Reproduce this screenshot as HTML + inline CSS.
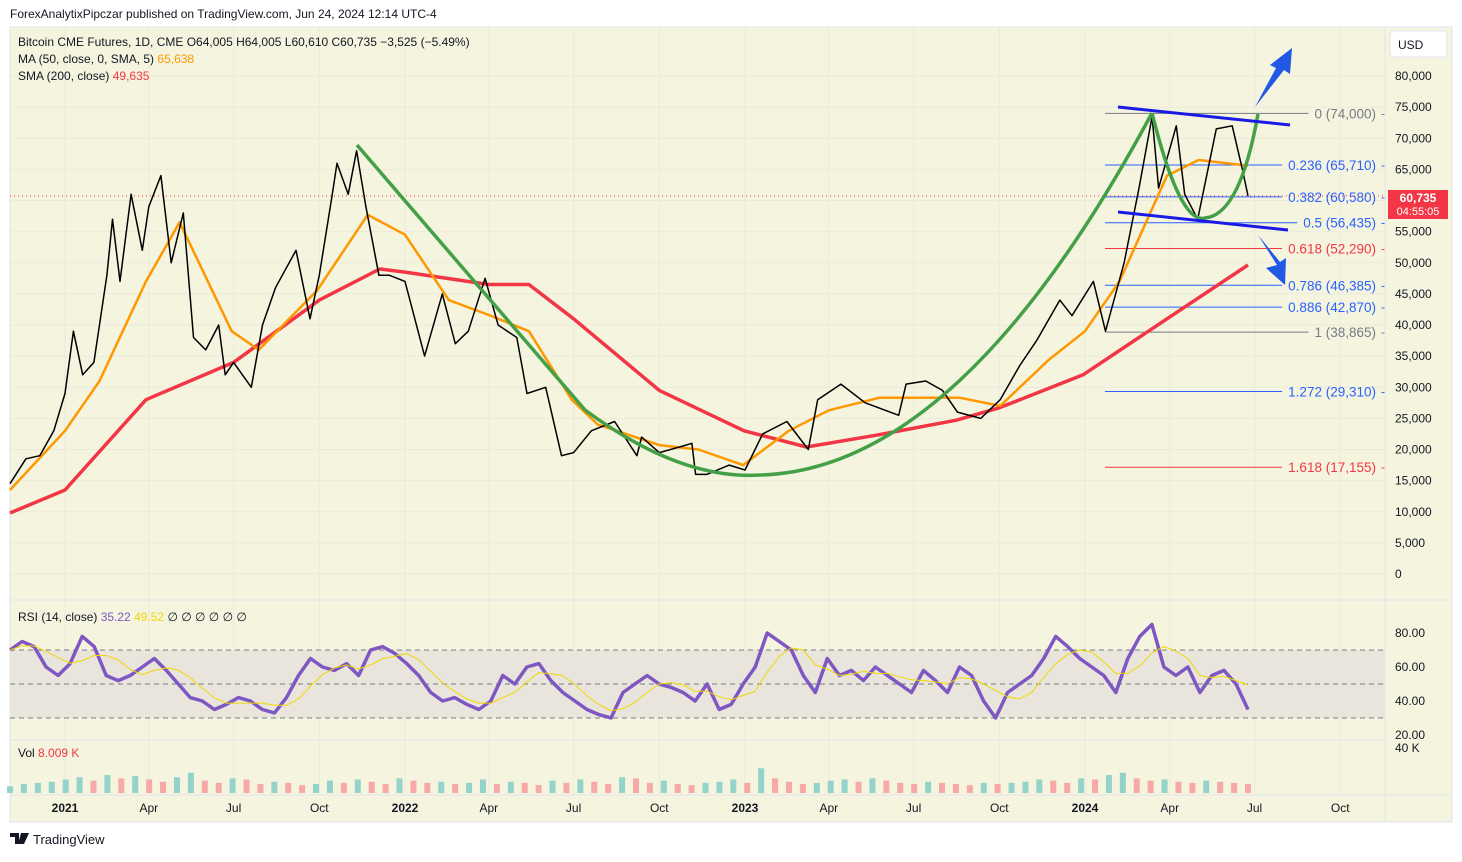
<!DOCTYPE html>
<html><head><meta charset="utf-8"><style>
body{margin:0;background:#fff;font-family:"Liberation Sans",sans-serif;}
svg text{font-family:"Liberation Sans",sans-serif;}
</style></head><body>
<svg id="c" width="1462" height="857" xmlns="http://www.w3.org/2000/svg">
<rect x="0" y="0" width="1462" height="857" fill="#ffffff"/>
<rect x="10" y="27" width="1442" height="795" fill="#f5f4df" stroke="#e0e3eb"/>
<text x="10" y="18" font-size="12" fill="#131722">ForexAnalytixPipczar published on TradingView.com, Jun 24, 2024 12:14 UTC-4</text>
<g id="grid"></g>
<line x1="10" y1="600" x2="1452" y2="600" stroke="#e0e3eb"/>
<line x1="10" y1="740" x2="1385" y2="740" stroke="#e0e3eb"/>
<line x1="10" y1="795" x2="1452" y2="795" stroke="#e0e3eb"/>
<line x1="1385" y1="27" x2="1385" y2="822" stroke="#e0e3eb"/>
<g id="fib"></g>
<g id="price"></g>
<g id="ann"></g>
<g id="rsi"></g>
<g id="vol"></g>
<g id="axes"></g>
<text x="18" y="46" font-size="12" fill="#131722">Bitcoin CME Futures, 1D, CME  O64,005  H64,005  L60,610  C60,735  −3,525 (−5.49%)</text>
<text x="18" y="63" font-size="12" fill="#131722">MA (50, close, 0, SMA, 5) <tspan fill="#ff9800">65,638</tspan></text>
<text x="18" y="80" font-size="12" fill="#131722">SMA (200, close) <tspan fill="#f23645">49,635</tspan></text>
<text x="18" y="621" font-size="12" fill="#131722">RSI (14, close) <tspan fill="#7e57c2">35.22</tspan> <tspan fill="#f0d800">49.52</tspan>  ∅  ∅  ∅  ∅  ∅  ∅</text>
<text x="18" y="757" font-size="12" fill="#131722">Vol <tspan fill="#f23645">8.009 K</tspan></text>
<rect x="1390" y="31" width="57" height="26" rx="4" fill="#fff" stroke="#e0e3eb"/>
<text x="1398" y="49" font-size="12" fill="#131722">USD</text>
<rect x="1388" y="190" width="60" height="29" fill="#f23645"/>
<text x="1418" y="202" font-size="12" font-weight="bold" fill="#fff" text-anchor="middle">60,735</text>
<text x="1418" y="215" font-size="11" fill="#fff" text-anchor="middle">04:55:05</text>
<g>
<path d="M10,833 h9 v11 h-4 v-7 h-5 z M21,833 h3 l-3,11 h-3 z M23,833 h6 l-5,11 h-3 z" fill="#131722"/>
<text x="33" y="844" font-size="13" fill="#131722">TradingView</text>
</g>
</svg>
<script>
const NS="http://www.w3.org/2000/svg";
const priceDates=["2020-11-03","2020-11-20","2020-12-05","2020-12-20","2021-01-01","2021-01-10","2021-01-20","2021-02-01","2021-02-15","2021-02-21","2021-03-01","2021-03-13","2021-03-25","2021-04-01","2021-04-14","2021-04-25","2021-05-08","2021-05-19","2021-06-01","2021-06-15","2021-06-22","2021-07-01","2021-07-20","2021-08-01","2021-08-15","2021-09-06","2021-09-21","2021-10-01","2021-10-15","2021-10-20","2021-11-01","2021-11-10","2021-11-20","2021-12-04","2021-12-15","2022-01-01","2022-01-22","2022-02-10","2022-02-24","2022-03-10","2022-03-28","2022-04-11","2022-05-01","2022-05-12","2022-06-01","2022-06-18","2022-07-01","2022-07-20","2022-08-14","2022-09-07","2022-09-12","2022-10-01","2022-10-25","2022-11-05","2022-11-09","2022-11-21","2022-12-15","2023-01-01","2023-01-20","2023-02-15","2023-03-10","2023-03-20","2023-04-14","2023-05-10","2023-06-15","2023-06-23","2023-07-14","2023-08-01","2023-08-17","2023-09-11","2023-10-02","2023-10-23","2023-11-10","2023-12-05","2023-12-18","2024-01-10","2024-01-23","2024-02-12","2024-02-28","2024-03-13","2024-03-20","2024-04-08","2024-04-17","2024-05-01","2024-05-21","2024-06-07","2024-06-18","2024-06-24"];
const priceValues=[14500,18500,19000,23000,29000,39000,32000,34000,48000,57000,47000,61000,52000,59000,64000,50000,58000,38000,36000,40000,32000,34000,30000,40000,46000,52000,41000,48000,61000,66000,61000,68000,59000,48000,48000,47000,35000,45000,37000,39000,47500,40000,38000,29000,30000,19000,19500,23000,24500,19000,22000,19500,20500,21000,16000,16000,17500,16700,22500,24500,20000,28000,30500,27500,25500,30500,31000,29500,26000,25000,28000,33500,37500,44000,41500,47000,39000,50000,62000,73500,62000,72000,61000,57000,71500,72000,65000,60735];
const ma50Dates=["2020-11-03","2021-01-01","2021-02-07","2021-03-29","2021-05-04","2021-06-29","2021-07-28","2021-09-29","2021-11-22","2022-01-01","2022-02-17","2022-04-01","2022-05-14","2022-06-29","2022-07-27","2022-10-01","2022-11-12","2022-12-30","2023-02-17","2023-04-01","2023-05-25","2023-08-20","2023-10-02","2023-11-23","2024-01-01","2024-02-07","2024-03-29","2024-05-02","2024-06-24"];
const ma50Values=[13500,23000,31000,47000,56500,39000,36000,45600,57700,54500,44000,41600,39000,28000,24000,20700,20000,17500,23000,26300,28300,28300,27000,34400,39000,47000,64000,66500,65600];
const sma200Dates=["2020-11-03","2021-01-01","2021-03-29","2021-07-01","2021-10-01","2021-12-05","2022-01-01","2022-04-01","2022-05-14","2022-07-01","2022-10-01","2022-12-31","2023-03-08","2023-05-22","2023-08-16","2023-10-01","2023-12-30","2024-03-29","2024-06-24"];
const sma200Values=[9800,13500,28000,34000,44000,49000,48500,46500,46500,41000,29500,23000,20400,22300,24700,26700,32000,41000,49635];
const fibLevels=["0","0.236","0.382","0.5","0.618","0.786","0.886","1","1.272","1.618"];
const fibPrices=[74000,65710,60580,56435,52290,46385,42870,38865,29310,17155];
const fibColors=["#787b86","#2962ff","#2962ff","#2962ff","#f23645","#2962ff","#2962ff","#787b86","#2962ff","#f23645"];
const priceTicks=[0,5000,10000,15000,20000,25000,30000,35000,40000,45000,50000,55000,60000,65000,70000,75000,80000];
const timeTicks=["2021-01-01","2021-04-01","2021-07-01","2021-10-01","2022-01-01","2022-04-01","2022-07-01","2022-10-01","2023-01-01","2023-04-01","2023-07-01","2023-10-01","2024-01-01","2024-04-01","2024-07-01","2024-10-01"];
const timeLabels=["2021","Apr","Jul","Oct","2022","Apr","Jul","Oct","2023","Apr","Jul","Oct","2024","Apr","Jul","Oct"];
const rsiValues=[70,75,72,60,55,62,78,72,55,52,55,60,65,58,50,42,40,35,38,42,40,35,33,42,55,65,60,58,62,55,70,72,68,62,55,45,40,42,38,35,40,55,50,60,62,52,45,40,35,32,30,45,50,55,50,48,45,40,50,35,38,50,60,80,75,70,55,45,65,55,58,52,60,55,50,45,58,52,45,60,55,40,30,45,50,55,65,78,72,65,60,55,45,65,78,85,60,55,60,45,55,58,50,35];
const rsiTicks=[20,40,60,80];
const volValues=[6,8,9,10,12,14,11,16,13,15,12,10,14,18,11,9,13,12,8,10,9,7,8,11,9,12,10,8,13,11,9,10,8,9,12,8,10,9,7,11,9,12,10,8,14,13,9,11,8,7,9,10,12,9,22,13,10,8,9,11,12,10,13,11,9,8,10,9,8,7,9,8,9,10,12,11,9,13,12,16,18,13,11,12,10,9,11,10,9,8];

const t0=Date.UTC(2021,0,1);
function day(s){const p=s.split("-");return (Date.UTC(+p[0],+p[1]-1,+p[2])-t0)/86400000;}
function X(s){return 65+day(s)*0.9315;}
function Y(v){return 574-v*0.006225;}
function RY(v){return 735-(v-20)*1.7;}
const xStart=X(priceDates[0]), xEnd=X(priceDates[priceDates.length-1]);

function el(tag,attrs,parent){const e=document.createElementNS(NS,tag);for(const k in attrs)e.setAttribute(k,attrs[k]);document.getElementById(parent).appendChild(e);return e;}

timeTicks.forEach(t=>{el("line",{x1:X(t),x2:X(t),y1:27,y2:795,stroke:"#ebeadb"},"grid");});
priceTicks.forEach(v=>{el("line",{x1:10,x2:1385,y1:Y(v),y2:Y(v),stroke:"#ebeadb"},"grid");});
priceTicks.forEach((v,i)=>{const t=el("text",{x:1395,y:Y(v)+4,"font-size":12,fill:"#131722"},"axes");t.textContent=v===0?"0":v.toLocaleString("en-US");

});
timeTicks.forEach((s,i)=>{const t=el("text",{x:X(s),y:812,"font-size":12,fill:"#131722","text-anchor":"middle","font-weight":timeLabels[i].length===4?"bold":"normal"},"axes");t.textContent=timeLabels[i];

});
fibPrices.forEach((p,i)=>{
const t=el("text",{x:1376,y:Y(p)+5,"font-size":13.5,fill:fibColors[i],"text-anchor":"end"},"fib");t.textContent=fibLevels[i]+" ("+p.toLocaleString("en-US")+")";


const bx=t.getBBox().x;
const l=el("line",{x1:1105,x2:bx-6,y1:Y(p),y2:Y(p),stroke:fibColors[i],"stroke-width":1},"fib");


const d=el("text",{x:1381,y:Y(p)+4,"font-size":12,fill:fibColors[i]},"fib");d.textContent="-";});
el("line",{x1:10,x2:1385,y1:Y(60735),y2:Y(60735),stroke:"#f23645","stroke-dasharray":"1 3"},"fib");
function poly(dates,vals,color,w,name){const pts=dates.map((d,i)=>X(d).toFixed(1)+","+Y(vals[i]).toFixed(1)).join(" ");const p=el("polyline",{points:pts,fill:"none",stroke:color,"stroke-width":w,"stroke-linejoin":"round"},"price");

}
poly(sma200Dates,sma200Values,"#f23645",3.5,"sma200-line");
poly(ma50Dates,ma50Values,"#ff9800",2.5,"ma50-line");
poly(priceDates,priceValues,"#000000",1.5,"price-series");
const g1=el("path",{d:"M357,145 L585,410 Q680,480 760,475 Q960,470 1152,113",fill:"none",stroke:"#43a047","stroke-width":3.5},"ann");


const g2=el("path",{d:"M1152,113 Q1180,225 1205,218 Q1240,215 1258,114",fill:"none",stroke:"#43a047","stroke-width":3.5},"ann");


const c1=el("line",{x1:1118,y1:107,x2:1290,y2:125,stroke:"#1a1ae6","stroke-width":3},"ann");


const c2=el("line",{x1:1118,y1:212,x2:1288,y2:230,stroke:"#1a1ae6","stroke-width":3},"ann");


const a1=el("path",{d:"M1255,107 L1276,68 L1270,65 L1292,48 L1290,74 L1284,70 Z",fill:"#2158e6"},"ann");


const a2=el("path",{d:"M1258,235 L1277,265 L1266,268 L1285,285 L1286,258 L1280,262 Z",fill:"#2158e6"},"ann");


el("rect",{x:10,y:RY(70),width:1375,height:RY(30)-RY(70),fill:"#e9e5dc"},"rsi");
[70,50,30].forEach(v=>el("line",{x1:10,x2:1385,y1:RY(v),y2:RY(v),stroke:"#787b86","stroke-dasharray":"5 4"},"rsi"));
rsiTicks.forEach(v=>{const t=el("text",{x:1395,y:RY(v)+4,"font-size":12,fill:"#131722"},"rsi");t.textContent=v.toFixed(2);});
const n=rsiValues.length, step=(xEnd-xStart)/(n-1);
const rp=rsiValues.map((v,i)=>(xStart+i*step).toFixed(1)+","+RY(v).toFixed(1)).join(" ");
const ma=rsiValues.map((v,i)=>{let s=0,c=0;for(let k=Math.max(0,i-3);k<=i;k++){s+=rsiValues[k];c++;}return (xStart+i*step).toFixed(1)+","+RY(s/c).toFixed(1);}).join(" ");
const rl=el("polyline",{points:rp,fill:"none",stroke:"#7e57c2","stroke-width":3.5,"stroke-linejoin":"round"},"rsi");


const rm=el("polyline",{points:ma,fill:"none",stroke:"#f0d800","stroke-width":1},"rsi");


const vt=el("text",{x:1395,y:752,"font-size":12,fill:"#131722"},"vol");vt.textContent="40 K";
const vn=volValues.length, vstep=(xEnd-xStart)/(vn-1);
volValues.forEach((v,i)=>{const h=v*45/40;const b=el("rect",{x:xStart+i*vstep-3,y:793-h,width:6,height:h,fill:(i>0&&v<volValues[i-1])?"#f7a9a7":"#94d3c9"},"vol");

});
</script>
</body></html>
